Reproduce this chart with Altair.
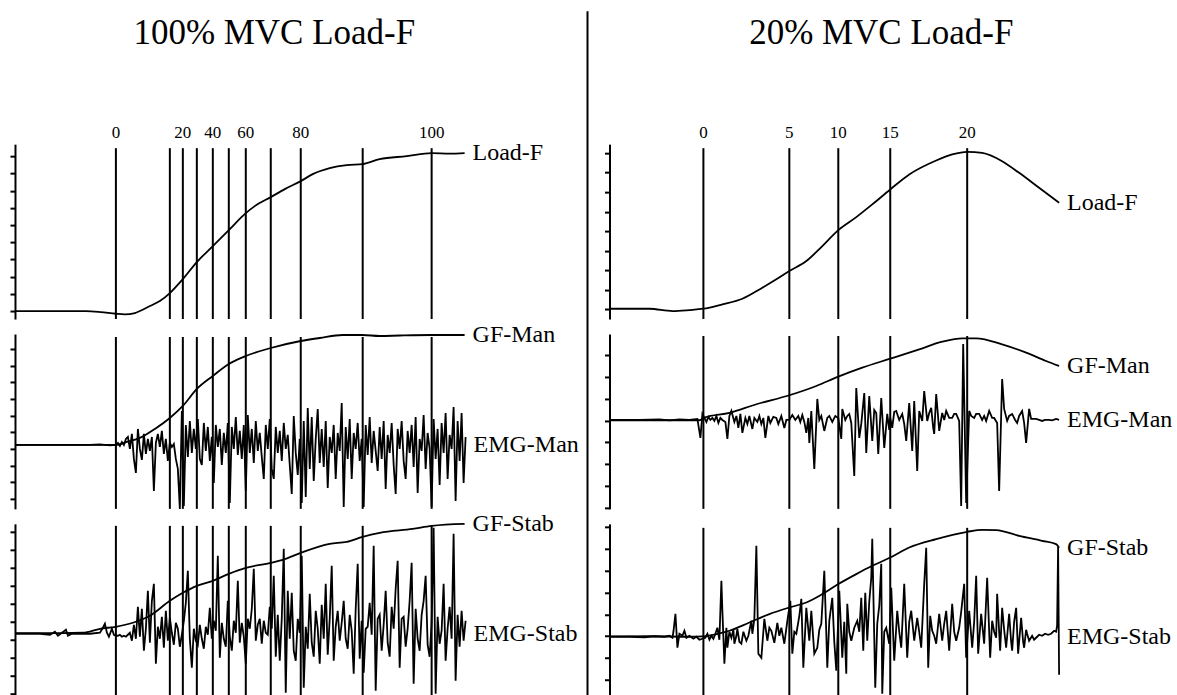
import altair as alt
import pandas as pd

FONT = "Liberation Serif"

# =====================  LEFT PANEL : 100% MVC Load-F  =====================
# time = samples relative to Load-F onset, amplitude = arbitrary units
L_rules = [0, 54, 67, 81, 97, 113, 130, 155, 185, 247, 316]
L_marks_t = [0, 67, 97, 130, 185, 316]
L_marks = ["0", "20", "40", "60", "80", "100"]

L_load_t = [-101, -60, -30, -15, 0, 9, 19, 24, 34, 44, 54, 67, 81, 97, 113, 130, 139,
            155, 169, 185, 197, 214, 231, 247, 264, 291, 316, 334, 349]
L_load_v = [8, 8, 8, 7, 5.3, 4.7, 6, 8, 13, 18, 26, 40, 57, 73, 89, 106, 113,
            122, 130, 138, 145, 151, 154, 155, 160, 163, 166, 165.5, 166]

L_gfman_t = [-101, -16, 0, 11, 24, 39, 54, 67, 81, 97, 113, 130, 155, 185, 204, 227,
             247, 264, 284, 316, 349]
L_gfman_v = [64, 64, 64, 67, 71, 80, 91, 103, 120, 133, 145, 153, 161, 168, 171, 174,
             174, 173, 173.5, 174, 174]

L_emgman_pre_t = [-101, -60, -26, -16, -6, 0]
L_emgman_pre_v = [64, 64, 64, 64.5, 63.5, 64]
L_emgman_step = 2          # samples between EMG readings after onset
L_emgman_v = [66, 63, 67, 64, 70, 72, 60, 75, 50, 36,
              80, 60, 49, 75, 55, 70, 58, 72, 18, 66,
              75, 62, 78, 55, 70, 48, 66, 62, 65, 50,
              40, 0, 98, 3, 84, 52, 88, 56, 80, 60,
              90, 50, 44, 86, 58, 82, 48, 72, 26, 84,
              62, 80, 44, 76, 56, 86, 6, 82, 60, 92,
              54, 78, 50, 84, 18, 94, 56, 80, 46, 88,
              58, 76, 52, 30, 84, 60, 90, 40, 30, 82,
              56, 78, 48, 86, 60, 74, 44, 15, 93, 56,
              34, 70, 6, 88, 12, 101, 40, 92, 28, 70,
              100, 46, 80, 42, 88, 21, 72, 56, 84, 30,
              76, 58, 106, 2, 82, 50, 90, 30, 76, 60,
              86, 48, 70, 2, 84, 54, 92, 46, 78, 58,
              38, 82, 50, 88, 20, 74, 56, 86, 44, 15,
              80, 60, 88, 48, 30, 78, 56, 84, 42, 92,
              16, 70, 58, 94, 40, 76, 60, 2, 90, 50,
              80, 24, 86, 56, 96, 30, 74, 60, 102, 8,
              88, 48, 96, 26, 72]

L_gfstab_t = [-101, -56, -33, -16, 0, 17, 34, 54, 67, 81, 97, 113, 130, 155, 167, 185,
              214, 231, 247, 264, 297, 316, 349]
L_gfstab_v = [65.7, 65.7, 66, 70, 72, 76, 83, 98, 106, 113, 118, 125, 131, 136, 139, 146,
              155, 157, 162, 166, 170, 173, 175]

L_emgstab_pre_t = [-101, -76, -66, -61, -58, -54, -50, -48, -44, -26, -16, -13, -11, -9,
                   -7, -4, -2, 0]
L_emgstab_pre_v = [65, 65, 64, 67, 63, 66, 69, 63, 65, 65, 66, 71, 75, 66, 62, 70, 64, 63]
L_emgstab_step = 2
L_emgstab_v = [63, 64, 62, 63, 62, 64, 66, 58, 74, 60,
               92, 62, 90, 48, 70, 108, 56, 98, 115, 35,
               72, 60, 82, 51, 88, 58, 81, 66, 54, 76,
               70, 52, 64, 78, 96, 128, 60, 31, 70, 58,
               54, 74, 60, 50, 72, 64, 91, 60, 78, 68,
               143, 41, 76, 60, 52, 98, 62, 48, 78, 66,
               118, 56, 76, 62, 35, 80, 70, 90, 130, 58,
               74, 80, 55, 78, 66, 64, 92, 70, 123, 42,
               84, 38, 80, 150, 6, 108, 60, 106, 48, 38,
               80, 66, 143, 11, 72, 50, 105, 56, 42, 88,
               70, 35, 94, 60, 115, 44, 80, 133, 38, 72,
               88, 58, 76, 98, 60, 50, 84, 68, 25, 90,
               135, 40, 78, 26, 70, 72, 96, 64, 153, 8,
               80, 84, 48, 74, 108, 56, 42, 92, 70, 110,
               138, 31, 80, 82, 52, 70, 98, 136, 15, 90,
               60, 48, 84, 98, 123, 54, 42, 76, 171, 5,
               82, 55, 68, 115, 38, 70, 92, 60, 165, 18,
               84, 52, 88, 58, 78]

L1_ticks = [8, 25.2, 42.4, 59.6, 76.8, 94, 111.2, 128.4, 145.6, 162.8]
L2_ticks = [10, 26.7, 43.3, 60, 76.7, 93.3, 110, 126.7, 143.3, 160]
L3_ticks = [5, 23, 41, 59, 77, 95, 113, 131, 149, 167]

# =====================  RIGHT PANEL : 20% MVC Load-F  =====================
R_rules = [0, 86, 135, 187, 264]
R_marks_t = [0, 86, 135, 187, 264]
R_marks = ["0", "5", "10", "15", "20"]

R_load_t = [-94, -54, -31, -14, 0, 19, 39, 59, 73, 86, 103, 119, 135, 153, 169, 187,
            206, 233, 249, 264, 279, 299, 316, 336, 356]
R_load_v = [10.3, 10.3, 8, 9, 10.3, 14.7, 20.3, 31.3, 39.7, 48, 58, 73, 89, 102, 114.7,
            129.7, 144.7, 158.7, 164.7, 167.3, 166.3, 158, 146.3, 131.3, 116.3]

R_gfman_t = [-94, -54, -4, 1, 26, 53, 86, 113, 135, 159, 187, 216, 239, 259, 273, 299,
             323, 343, 356]
R_gfman_v = [87.7, 87.7, 87.7, 90.3, 95, 103.7, 112.7, 122, 131.3, 140.3, 149.3, 158.7,
             166.3, 169.7, 169.7, 163.7, 155.3, 147, 142]

R_emgman = [(-94, 88), (-64, 88), (-44, 88.5), (-34, 87.5), (-24, 88.5), (-14, 88), (-6, 89),
            (-3, 70), (-1, 94), (1, 90), (3, 86), (5, 91), (7, 88), (9, 90), (11, 87), (13, 92),
            (15, 85), (17, 90), (19, 88), (22, 86), (24, 69), (26, 92), (28, 97), (31, 86),
            (33, 92), (35, 80), (37, 94), (39, 75), (42, 90), (44, 84), (46, 92), (49, 79),
            (51, 90), (54, 86), (56, 92), (58, 84), (60, 90), (62, 70), (65, 92), (67, 85),
            (70, 91), (73, 90), (75, 84), (78, 92), (81, 80), (83, 88), (86, 88), (89, 93),
            (92, 88), (95, 92), (97, 86), (99, 93), (101, 86), (103, 75), (105, 90), (106, 65),
            (108, 97), (111, 39), (114, 109), (116, 88), (118, 92), (121, 77), (124, 90),
            (126, 92), (129, 86), (132, 92), (135, 90), (138, 69), (139, 99), (142, 88),
            (144, 92), (146, 94), (148, 85), (151, 32), (153, 120), (156, 70), (158, 84),
            (161, 115), (163, 55), (166, 112), (169, 67), (171, 98), (173, 95), (175, 54),
            (178, 110), (181, 60), (184, 94), (186, 78), (187, 90), (189, 80), (191, 96),
            (193, 97), (196, 88), (199, 94), (201, 84), (203, 67), (206, 105), (209, 57),
            (211, 107), (214, 37), (216, 97), (219, 87), (221, 117), (224, 87), (226, 95),
            (228, 100), (230, 80), (231, 74), (233, 114), (236, 77), (239, 95), (241, 88),
            (243, 97), (246, 90), (249, 90), (251, 94), (253, 94), (256, 87), (258, 2),
            (260, 164), (263, 5), (266, 97), (268, 92), (271, 90), (273, 94), (276, 94),
            (279, 88), (281, 92), (283, 87), (286, 97), (289, 90), (291, 90), (294, 85),
            (296, 17), (299, 129), (301, 99), (304, 87), (306, 92), (309, 94), (312, 88),
            (314, 85), (316, 92), (319, 97), (321, 85), (323, 65), (326, 99), (328, 89),
            (331, 89), (333, 89), (336, 88), (339, 87), (342, 88), (346, 88), (349, 87.5),
            (353, 89), (356, 88)]

R_gfstab_t = [-94, -54, -14, -1, 13, 26, 46, 66, 86, 103, 119, 135, 153, 169, 187, 206,
              233, 264, 279, 293, 316, 339, 353, 356]
R_gfstab_v = [65.3, 65.5, 65, 65.3, 67.7, 71, 79.3, 87.7, 94.3, 99.3, 107.7, 117.7, 127.7,
              136, 144.3, 154.3, 162.7, 170, 172, 171.7, 166, 161, 157.7, 154]

R_emgstab = [(-94, 65), (-74, 65), (-59, 64.5), (-49, 65.5), (-39, 65), (-34, 66), (-31, 64),
             (-30, 70), (-28, 88), (-26, 54), (-24, 68), (-21, 66), (-19, 71), (-17, 64),
             (-14, 66), (-10, 63), (-7, 65), (-4, 62), (-1, 63), (2, 64), (4, 68), (6, 62),
             (8, 66), (10, 63), (12, 68), (14, 74), (16, 62), (18, 121), (19, 91), (21, 38),
             (23, 74), (24, 54), (26, 70), (28, 64), (30, 72), (31, 58), (33, 66), (34, 73),
             (36, 60), (38, 58), (40, 70), (43, 61), (45, 66), (48, 81), (49, 68), (51, 83),
             (53, 156), (55, 48), (58, 44), (61, 83), (64, 61), (66, 74), (68, 71), (71, 59),
             (74, 79), (76, 66), (78, 74), (81, 58), (84, 81), (87, 101), (89, 48), (91, 70),
             (93, 68), (96, 86), (98, 103), (100, 34), (103, 94), (106, 61), (108, 91),
             (111, 48), (114, 54), (116, 72), (118, 78), (121, 131), (123, 68), (124, 34),
             (126, 81), (129, 104), (131, 60), (133, 31), (136, 111), (139, 44), (141, 80),
             (143, 28), (144, 98), (146, 70), (148, 61), (151, 74), (154, 81), (156, 70),
             (158, 104), (160, 51), (162, 109), (164, 61), (166, 100), (168, 124), (169, 163),
             (172, 14), (174, 78), (176, 96), (178, 138), (179, 8), (181, 70), (183, 74),
             (186, 58), (188, 114), (191, 41), (194, 91), (196, 70), (198, 54), (201, 118),
             (204, 44), (206, 80), (208, 91), (211, 61), (214, 84), (216, 70), (218, 54),
             (221, 118), (223, 154), (225, 34), (227, 86), (229, 71), (231, 66), (233, 58),
             (236, 88), (239, 61), (241, 78), (243, 91), (246, 51), (249, 98), (251, 70),
             (253, 61), (256, 74), (258, 90), (261, 118), (263, 44), (266, 91), (269, 54),
             (271, 80), (273, 126), (275, 48), (278, 88), (281, 58), (284, 124), (287, 44),
             (289, 81), (291, 70), (293, 64), (294, 108), (297, 51), (299, 94), (301, 72),
             (303, 54), (306, 88), (308, 60), (309, 51), (311, 80), (313, 94), (315, 48),
             (318, 84), (320, 60), (321, 54), (323, 72), (324, 68), (326, 61), (329, 66),
             (331, 62), (333, 64), (336, 67), (339, 66), (342, 68), (345, 67), (348, 68),
             (351, 71), (353, 70), (354, 76), (355, 155), (356, 27)]

R1_ticks = [10, 29.5, 49, 68.5, 88, 107.5, 127, 146.5, 166]
R2_ticks = [0, 21.9, 43.8, 65.6, 87.5, 109.4, 131.3, 153.1]
R3_ticks = [21.9, 43.8, 65.6, 87.5, 109.4, 131.3, 153.1, 175]


# ----------------------------- helpers ------------------------------------
def grid_series(pre_t, pre_v, step, vals):
    ts = list(pre_t) + [pre_t[-1] + step * (i + 1) for i in range(len(vals))]
    return ts, list(pre_v) + list(vals)


def pairs(p):
    return [a for a, _ in p], [b for _, b in p]


def long_df(series):
    recs = []
    for name, ts, vs in series:
        for i, (a, b) in enumerate(zip(ts, vs)):
            recs.append({"series": name, "t": a, "v": b, "i": i})
    return pd.DataFrame(recs)


ROW_H = 175


def row_chart(smooth, emg, rules_t, rule_top, t_dom, v_dom, ticks, width,
              marks=None, title=None, title_dx=0, divider=None):
    xs = alt.Scale(domain=t_dom, nice=False, zero=False)
    ys = alt.Scale(domain=v_dom, nice=False, zero=False)
    yax = alt.Axis(values=ticks, labels=False, ticks=True, tickSize=5, tickWidth=2,
                   tickColor="black", domain=True, domainColor="black", domainWidth=2,
                   grid=False, title=None)

    def X(f):
        return alt.X(f"{f}:Q", scale=xs, axis=None)

    def Y(f):
        return alt.Y(f"{f}:Q", scale=ys, axis=yax)

    layers = []
    rdf = pd.DataFrame({"t": rules_t,
                        "top": [rule_top] * len(rules_t),
                        "bot": [v_dom[0]] * len(rules_t)})
    layers.append(alt.Chart(rdf).mark_rule(color="black", strokeWidth=2).encode(
        x=X("t"), y=Y("top"), y2=alt.Y2("bot")))

    if smooth:
        layers.append(alt.Chart(long_df(smooth)).mark_line(
            color="black", strokeWidth=1.8, interpolate="monotone").encode(
            x=X("t"), y=Y("v"), detail="series:N", order="i:Q"))
    if emg:
        layers.append(alt.Chart(long_df(emg)).mark_line(
            color="black", strokeWidth=1.8).encode(
            x=X("t"), y=Y("v"), detail="series:N", order="i:Q"))

    lab = [{"series": n, "t": ts[-1], "v": vs[-1]} for n, ts, vs in smooth] + \
          [{"series": n, "t": ts[-1], "v": vs[0]} for n, ts, vs in emg]
    layers.append(alt.Chart(pd.DataFrame(lab)).mark_text(
        align="left", baseline="middle", dx=8, fontSize=24, font=FONT,
        color="black").encode(x=X("t"), y=Y("v"), text="series:N"))

    if marks:
        mdf = pd.DataFrame({"t": marks[0], "lab": marks[1],
                            "v": [rule_top] * len(marks[0])})
        layers.append(alt.Chart(mdf).mark_text(
            align="center", baseline="alphabetic", dy=-10, fontSize=17, font=FONT,
            color="black").encode(x=X("t"), y=Y("v"), text="lab:N"))

    if divider:
        layers.append(alt.Chart(pd.DataFrame({"d": [0]})).mark_rule(
            color="black", strokeWidth=2).encode(
            x=alt.value(divider[0]), y=alt.value(divider[1]), y2=alt.value(divider[2])))

    ch = alt.layer(*layers).properties(width=width, height=ROW_H)
    if title:
        ch = ch.properties(title=alt.TitleParams(
            text=title, fontSize=35, font=FONT, fontWeight="normal", color="black",
            anchor="middle", frame="group", dx=title_dx, offset=45,
            baseline="alphabetic"))
    return ch


# ----------------------------- build -------------------------------------
L_emgman_t, L_emgman_all = grid_series(L_emgman_pre_t, L_emgman_pre_v, L_emgman_step, L_emgman_v)
L_emgstab_t, L_emgstab_all = grid_series(L_emgstab_pre_t, L_emgstab_pre_v, L_emgstab_step, L_emgstab_v)
R_emgman_t, R_emgman_v = pairs(R_emgman)
R_emgstab_t, R_emgstab_v = pairs(R_emgstab)

LW, RW = 455, 450
L_dom = [-101, 354]
R_dom = [-94, 356]

L1 = row_chart([("Load-F", L_load_t, L_load_v)], [], L_rules, 171, L_dom, [0, 175],
               L1_ticks, LW, marks=(L_marks_t, L_marks), title="100% MVC Load-F",
               title_dx=32)
L2 = row_chart([("GF-Man", L_gfman_t, L_gfman_v)],
               [("EMG-Man", L_emgman_t, L_emgman_all)],
               L_rules, 172, L_dom, [0, 175], L2_ticks, LW, divider=(573, -323, 362))
L3 = row_chart([("GF-Stab", L_gfstab_t, L_gfstab_v)],
               [("EMG-Stab", L_emgstab_t, L_emgstab_all)],
               L_rules, 173, L_dom, [0, 175], L3_ticks, LW)

R1 = row_chart([("Load-F", R_load_t, R_load_v)], [], R_rules, 171, R_dom, [0, 175],
               R1_ticks, RW, marks=(R_marks_t, R_marks), title="20% MVC Load-F",
               title_dx=47)
R2 = row_chart([("GF-Man", R_gfman_t, R_gfman_v)],
               [("EMG-Man", R_emgman_t, R_emgman_v)],
               R_rules, 172, R_dom, [-1, 174], R2_ticks, RW)
R3 = row_chart([("GF-Stab", R_gfstab_t, R_gfstab_v)],
               [("EMG-Stab", R_emgstab_t, R_emgstab_v)],
               R_rules, 174, R_dom, [3, 178], R3_ticks, RW)

chart = alt.concat(L1, R1, L2, R2, L3, R3, columns=2,
                   spacing={"row": 15, "column": 140}, bounds="flush").properties(
    padding={"left": 9, "top": 10, "right": 4, "bottom": 0},
    background="white",
).configure_view(stroke=None)

chart.save("out.html", embed_options={"renderer": "svg", "actions": False})
